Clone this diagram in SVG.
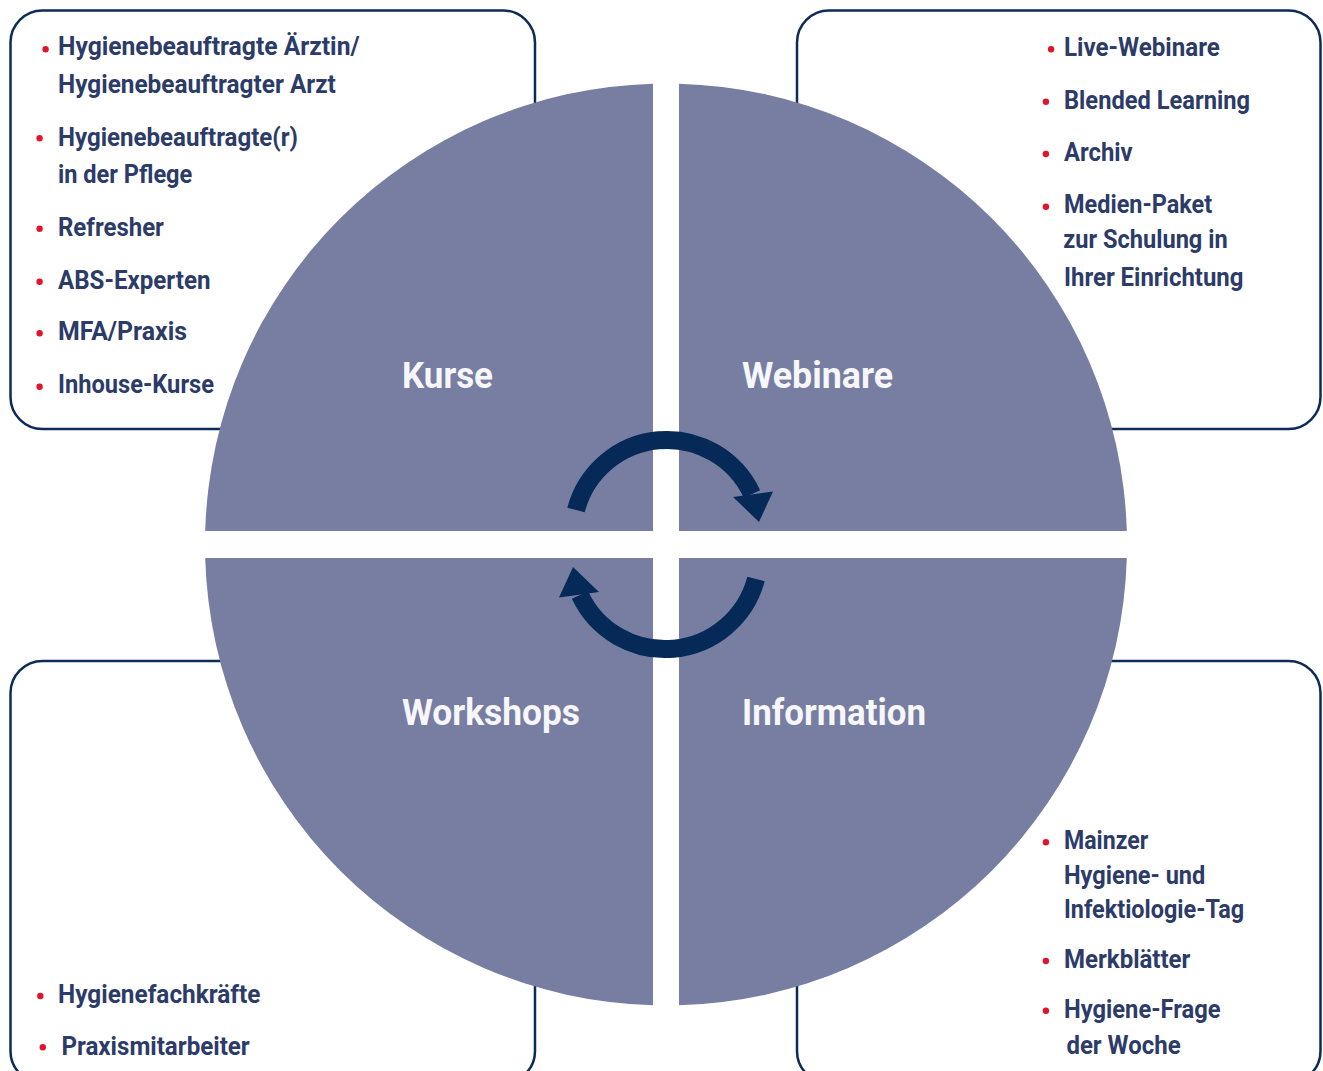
<svg xmlns="http://www.w3.org/2000/svg" xmlns:xlink="http://www.w3.org/1999/xlink" width="1323" height="1071" viewBox="0 0 1323 1071">
<style>
.box{fill:#ffffff;stroke:#0d2b57;stroke-width:2.5}
.quad{fill:#777ea2}
.title{font-family:Roboto,"Liberation Sans",sans-serif;font-weight:700;font-size:37px;fill:#f7f7fa}
.item{font-family:Roboto,"Liberation Sans",sans-serif;font-weight:700;font-size:26px;fill:#2c3b68}
.dot{fill:#e2142d}
.arc{fill:none;stroke:#062a57;stroke-width:18}
.head{fill:#062a57}
</style>
<rect width="1323" height="1071" fill="#ffffff"/>

<g id="node-kurse">
<rect class="box" x="10.5" y="10.5" width="524.5" height="418.5" rx="32"/>
<circle class="dot" cx="45.6" cy="49.3" r="3.2"/>
<text class="item" x="58" y="55" textLength="301.6" lengthAdjust="spacingAndGlyphs">Hygienebeauftragte Ärztin/</text>
<text class="item" x="58" y="93" textLength="277.8" lengthAdjust="spacingAndGlyphs">Hygienebeauftragter Arzt</text>
<circle class="dot" cx="39.6" cy="138.3" r="3.2"/>
<text class="item" x="58" y="145.5" textLength="240" lengthAdjust="spacingAndGlyphs">Hygienebeauftragte(r)</text>
<text class="item" x="58" y="183" textLength="134.3" lengthAdjust="spacingAndGlyphs">in der Pflege</text>
<circle class="dot" cx="39.6" cy="228.7" r="3.2"/>
<text class="item" x="58" y="236" textLength="105.9" lengthAdjust="spacingAndGlyphs">Refresher</text>
<circle class="dot" cx="39.6" cy="281.7" r="3.2"/>
<text class="item" x="58" y="288.7" textLength="152.5" lengthAdjust="spacingAndGlyphs">ABS-Experten</text>
<circle class="dot" cx="39.6" cy="333.3" r="3.2"/>
<text class="item" x="58" y="340" textLength="129" lengthAdjust="spacingAndGlyphs">MFA/Praxis</text>
<circle class="dot" cx="39.6" cy="386.7" r="3.2"/>
<text class="item" x="58" y="393.3" textLength="156" lengthAdjust="spacingAndGlyphs">Inhouse-Kurse</text>
<path class="quad" d="M 653 83.7 A 461 461 0 0 0 205.2 531 L 653 531 Z"/>
<text class="title" x="402" y="388" textLength="91" lengthAdjust="spacingAndGlyphs">Kurse</text>
</g>

<g id="node-webinare">
<rect class="box" x="797" y="10.5" width="523.5" height="418.5" rx="32"/>
<circle class="dot" cx="1051.1" cy="49.3" r="3.2"/>
<text class="item" x="1064" y="56" textLength="155.8" lengthAdjust="spacingAndGlyphs">Live-Webinare</text>
<circle class="dot" cx="1045.9" cy="101.7" r="3.2"/>
<text class="item" x="1064" y="109" textLength="186" lengthAdjust="spacingAndGlyphs">Blended Learning</text>
<circle class="dot" cx="1045.9" cy="154" r="3.2"/>
<text class="item" x="1064" y="161" textLength="68.6" lengthAdjust="spacingAndGlyphs">Archiv</text>
<circle class="dot" cx="1045.9" cy="206.7" r="3.2"/>
<text class="item" x="1064" y="213.3" textLength="148.2" lengthAdjust="spacingAndGlyphs">Medien-Paket</text>
<text class="item" x="1063.2" y="248.3" textLength="164.5" lengthAdjust="spacingAndGlyphs">zur Schulung in</text>
<text class="item" x="1064" y="285.7" textLength="179.4" lengthAdjust="spacingAndGlyphs">Ihrer Einrichtung</text>
<path class="quad" d="M 679 83.7 A 461 461 0 0 1 1126.8 531 L 679 531 Z"/>
<text class="title" x="742" y="388" textLength="151" lengthAdjust="spacingAndGlyphs">Webinare</text>
</g>

<g id="node-workshops">
<rect class="box" x="10.5" y="661" width="524.5" height="422" rx="32"/>
<circle class="dot" cx="40.3" cy="996" r="3.2"/>
<text class="item" x="58" y="1002.7" textLength="202.4" lengthAdjust="spacingAndGlyphs">Hygienefachkräfte</text>
<circle class="dot" cx="42.8" cy="1047.3" r="3.2"/>
<text class="item" x="61.4" y="1055" textLength="188.3" lengthAdjust="spacingAndGlyphs">Praxismitarbeiter</text>
<path class="quad" d="M 205.2 558 A 461 461 0 0 0 653 1005.3 L 653 558 Z"/>
<text class="title" x="402" y="724.5" textLength="178" lengthAdjust="spacingAndGlyphs">Workshops</text>
</g>

<g id="node-information">
<rect class="box" x="797" y="661" width="523.5" height="422" rx="32"/>
<circle class="dot" cx="1045.9" cy="842.3" r="3.2"/>
<text class="item" x="1064" y="849" textLength="84.2" lengthAdjust="spacingAndGlyphs">Mainzer</text>
<text class="item" x="1064" y="884" textLength="141.3" lengthAdjust="spacingAndGlyphs">Hygiene- und</text>
<text class="item" x="1064" y="917.7" textLength="180.1" lengthAdjust="spacingAndGlyphs">Infektiologie-Tag</text>
<circle class="dot" cx="1045.9" cy="961" r="3.2"/>
<text class="item" x="1064" y="968.3" textLength="126.4" lengthAdjust="spacingAndGlyphs">Merkblätter</text>
<circle class="dot" cx="1045.9" cy="1010.7" r="3.2"/>
<text class="item" x="1064" y="1017.7" textLength="156.5" lengthAdjust="spacingAndGlyphs">Hygiene-Frage</text>
<text class="item" x="1066.4" y="1054.3" textLength="114.2" lengthAdjust="spacingAndGlyphs">der Woche</text>
<path class="quad" d="M 679 1005.3 A 461 461 0 0 0 1126.8 558 L 679 558 Z"/>
<text class="title" x="742" y="724.5" textLength="184" lengthAdjust="spacingAndGlyphs">Information</text>
</g>

<g id="connectors">
<g id="arrow-top">
<path class="arc" d="M 576 510 A 94 94 0 0 1 752 494"/>
<polygon class="head" points="733,497 773,491.5 759,522"/>
</g>
<g id="arrow-bottom" transform="rotate(180 666 544.5)">
<path class="arc" d="M 576 510 A 94 94 0 0 1 752 494"/>
<polygon class="head" points="733,497 773,491.5 759,522"/>
</g>
</g>
</svg>
